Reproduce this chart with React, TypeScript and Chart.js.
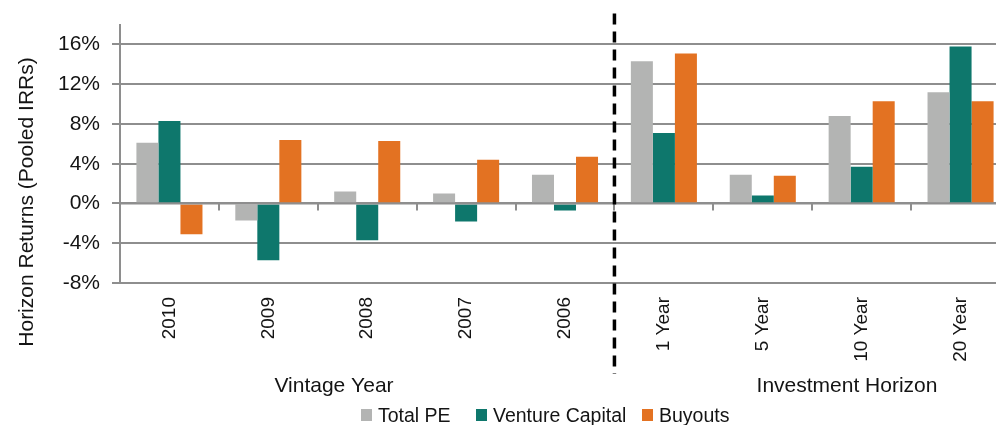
import React, { useEffect, useRef } from 'react';
import { Chart, registerables } from 'chart.js';

Chart.register(...registerables);

// ---- data ----
const categories = ['2010', '2009', '2008', '2007', '2006', '1 Year', '5 Year', '10 Year', '20 Year'];
const totalPE = [6.1, -1.7, 1.2, 1.0, 2.9, 14.3, 2.9, 8.8, 11.2];
const ventureCapital = [8.3, -5.7, -3.7, -1.8, -0.7, 7.1, 0.8, 3.7, 15.8];
const buyouts = [-3.1, 6.4, 6.3, 4.4, 4.7, 15.1, 2.8, 10.3, 10.3];
const yTicks = [-8, -4, 0, 4, 8, 12, 16];
const seriesNames = ['Total PE', 'Venture Capital', 'Buyouts'];
const groupLabels = ['Vintage Year', 'Investment Horizon'];
const yTitle = 'Horizon Returns (Pooled IRRs)';

// ---- style ----
const COLORS = ['#b3b4b3', '#0e776c', '#e37222'];
const GRID = '#8e8e8e';
const TEXT = '#141414';
const SANS = "'Liberation Sans', Arial, sans-serif";
const CANVAS_W = 1010;
const CANVAS_H = 425;

const overlay = {
  id: 'overlay',
  afterDatasetsDraw(chart: any) {
    const { ctx, chartArea, scales } = chart;
    const x = scales.x;
    const y = scales.y;
    const y0 = y.getPixelForValue(0);
    ctx.save();
    // zero line on top of bars
    ctx.strokeStyle = GRID;
    ctx.lineWidth = 2;
    ctx.beginPath();
    ctx.moveTo(chartArea.left, y0);
    ctx.lineTo(chartArea.right, y0);
    ctx.stroke();
    // category tick marks on the zero line
    ctx.beginPath();
    for (let i = 1; i < categories.length; i++) {
      const bx = Math.round((x.getPixelForValue(i - 1) + x.getPixelForValue(i)) / 2);
      ctx.moveTo(bx, y0);
      ctx.lineTo(bx, y0 + 7);
    }
    ctx.stroke();
    // dashed divider between vintage years and horizons
    const dx = (x.getPixelForValue(4) + x.getPixelForValue(5)) / 2;
    ctx.setLineDash([11, 7]);
    ctx.lineWidth = 3.5;
    ctx.strokeStyle = '#000';
    ctx.beginPath();
    ctx.moveTo(dx, chartArea.top - 11);
    ctx.lineTo(dx, chartArea.bottom + 91);
    ctx.stroke();
    ctx.setLineDash([]);

    // y axis title
    ctx.fillStyle = TEXT;
    ctx.font = `21px ${SANS}`;
    ctx.save();
    ctx.translate(33, 202);
    ctx.rotate(-Math.PI / 2);
    ctx.textAlign = 'center';
    ctx.textBaseline = 'alphabetic';
    ctx.fillText(yTitle, 0, 0);
    ctx.restore();

    // group labels
    ctx.textAlign = 'center';
    ctx.textBaseline = 'alphabetic';
    ctx.font = `21px ${SANS}`;
    ctx.fillText(groupLabels[0], 334, 392);
    ctx.fillText(groupLabels[1], 847, 392);

    // legend
    const legendX = [361, 476, 642];
    ctx.font = `19.5px ${SANS}`;
    ctx.textAlign = 'left';
    seriesNames.forEach((name, i) => {
      ctx.fillStyle = COLORS[i];
      ctx.fillRect(legendX[i], 409, 11, 12);
      ctx.fillStyle = TEXT;
      ctx.fillText(name, legendX[i] + 17, 422);
    });
    ctx.restore();
  },
};

export default function App() {
  const ref = useRef<HTMLCanvasElement | null>(null);
  useEffect(() => {
    if (!ref.current) return;
    const chart = new Chart(ref.current, {
      type: 'bar',
      data: {
        labels: categories,
        datasets: [
          { label: seriesNames[0], data: totalPE, backgroundColor: COLORS[0] },
          { label: seriesNames[1], data: ventureCapital, backgroundColor: COLORS[1] },
          { label: seriesNames[2], data: buyouts, backgroundColor: COLORS[2] },
        ],
      },
      options: {
        responsive: false,
        animation: false,
        devicePixelRatio: 1,
        datasets: { bar: { categoryPercentage: 0.668, barPercentage: 1, borderWidth: 0 } },
        layout: { padding: { top: 21, left: 0, right: 0, bottom: 0 } },
        plugins: { legend: { display: false }, tooltip: { enabled: false } },
        scales: {
          x: {
            type: 'category',
            offset: true,
            grid: { display: false, drawTicks: false },
            border: { display: false },
            ticks: {
              autoSkip: false,
              maxRotation: 90,
              minRotation: 90,
              padding: 14,
              color: TEXT,
              font: { family: SANS, size: 19 },
            },
            afterFit(s: any) {
              s.height = 142;
            },
          },
          y: {
            min: -8,
            max: 18,
            afterBuildTicks(s: any) {
              s.ticks = yTicks.map((v) => ({ value: v }));
            },
            ticks: {
              callback: (v: any) => `${v}%`,
              padding: 12,
              color: TEXT,
              font: { family: SANS, size: 21 },
            },
            grid: { color: GRID, lineWidth: 2, tickLength: 8, tickColor: GRID },
            border: { display: true, color: GRID, width: 2 },
            afterFit(s: any) {
              s.width = 120;
            },
          },
        },
      },
      plugins: [overlay],
    } as any);
    return () => chart.destroy();
  }, []);

  return (
    <div style={{ position: 'fixed', left: 0, top: 0, width: 996, height: 425, overflow: 'hidden', background: '#fff' }}>
      <canvas ref={ref} width={CANVAS_W} height={CANVAS_H} style={{ display: 'block', width: CANVAS_W, height: CANVAS_H }} />
    </div>
  );
}
